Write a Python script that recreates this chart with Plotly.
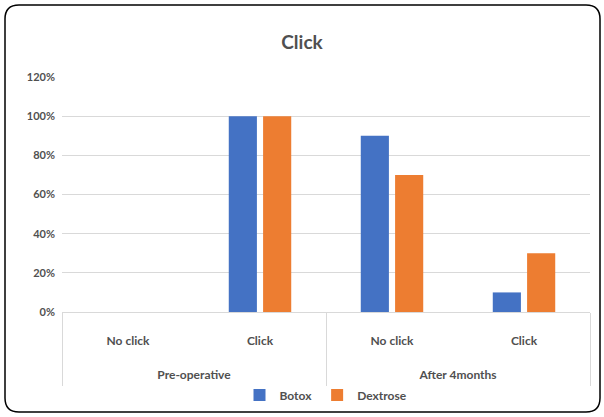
import plotly.graph_objects as go

groups = ["Pre-operative", "Pre-operative", "After 4months", "After 4months"]
subcats = ["No click", "Click", "No click", "Click"]
botox = [0.0, 1.0, 0.9, 0.1]
dextrose = [0.0, 1.0, 0.7, 0.3]
yticks = [0, 0.2, 0.4, 0.6, 0.8, 1.0, 1.2]

FONT = "Lato"
GRAY = "#505050"
LINE = "#D9D9D9"

pos = list(range(len(subcats)))
group_names = list(dict.fromkeys(groups))
group_centers = [sum(p for p, g in zip(pos, groups) if g == name) / groups.count(name)
                 for name in group_names]
group_edges = [-0.5]
for name in group_names:
    group_edges.append(max(p for p, g in zip(pos, groups) if g == name) + 0.5)

fig = go.Figure()
fig.add_trace(go.Bar(name="Botox", x=pos, y=botox, marker_color="#4472C4",
                     marker_line_width=0))
fig.add_trace(go.Bar(name="Dextrose", x=pos, y=dextrose, marker_color="#ED7D31",
                     marker_line_width=0))

L, R, T, B = 62, 14, 77, 105
W, H = 604, 417
pw, ph = W - L - R, H - T - B

def px(xp):
    return (xp - L) / pw

def py(yp):
    return (H - B - yp) / ph

x0, x1 = px(5), px(600)
y1, y0 = py(5), py(412)
rx, ry = 14 / pw, 14 / ph
path = (f"M {x0+rx},{y1} L {x1-rx},{y1} Q {x1},{y1} {x1},{y1-ry} "
        f"L {x1},{y0+ry} Q {x1},{y0} {x1-rx},{y0} L {x0+rx},{y0} "
        f"Q {x0},{y0} {x0},{y0+ry} L {x0},{y1-ry} Q {x0},{y1} {x0+rx},{y1} Z")

xr = [-0.5, len(subcats) - 0.5]

fig.update_layout(
    width=W, height=H,
    margin=dict(l=L, r=R, t=T, b=B, autoexpand=False),
    paper_bgcolor="white", plot_bgcolor="white",
    barmode="group", bargap=0.48, bargroupgap=0.18,
    font=dict(family=FONT, color=GRAY, size=12),
    title=dict(text="<b>Click</b>", x=0.5, xanchor="center", y=1 - 42 / H, yanchor="middle",
               font=dict(family=FONT, size=19, color=GRAY)),
    legend=dict(orientation="h", x=0.5, xanchor="center",
                yref="container", y=1 - 395 / H, yanchor="middle",
                bgcolor="rgba(0,0,0,0)",
                font=dict(family=FONT, size=12, color=GRAY, weight="bold"), itemwidth=30,
                tracegroupgap=0),
    showlegend=True,
    shapes=[dict(type="path", path=path, xref="paper", yref="paper",
                 line=dict(color="black", width=1.5), fillcolor="rgba(0,0,0,0)")],
    xaxis=dict(range=xr, tickmode="array", tickvals=pos, ticktext=subcats,
               showline=True, linecolor=LINE, linewidth=1, showgrid=False,
               zeroline=False, ticks="", ticklabelstandoff=18, automargin=False,
               tickfont=dict(family=FONT, size=12, color=GRAY, weight="bold")),
    xaxis2=dict(range=xr, overlaying="x", anchor="y", side="bottom",
                tickmode="array", tickvals=group_centers, ticktext=group_names,
                showline=False, showgrid=False, zeroline=False, ticks="",
                ticklabelstandoff=54, automargin=False,
                tickfont=dict(family=FONT, size=12, color=GRAY, weight="bold"),
                minor=dict(tickmode="array", tickvals=group_edges, ticks="outside",
                           ticklen=73, tickwidth=1, tickcolor=LINE, showgrid=False)),
    yaxis=dict(range=[0, 1.2], tickvals=yticks, tickformat=".0%",
               showgrid=True, gridcolor=LINE, gridwidth=1, zeroline=False,
               showline=False, ticks="", ticklen=0, ticklabelstandoff=6, automargin=False,
               tickfont=dict(family=FONT, size=11, color=GRAY, weight="bold")),
)
# an invisible trace so the second x axis is drawn
fig.add_trace(go.Bar(x=pos, y=[None] * len(pos), xaxis="x2", showlegend=False,
                     hoverinfo="skip"))

fig.write_html("out.html", post_script="document.body.style.margin='0';",
               config={"displayModeBar": False})
